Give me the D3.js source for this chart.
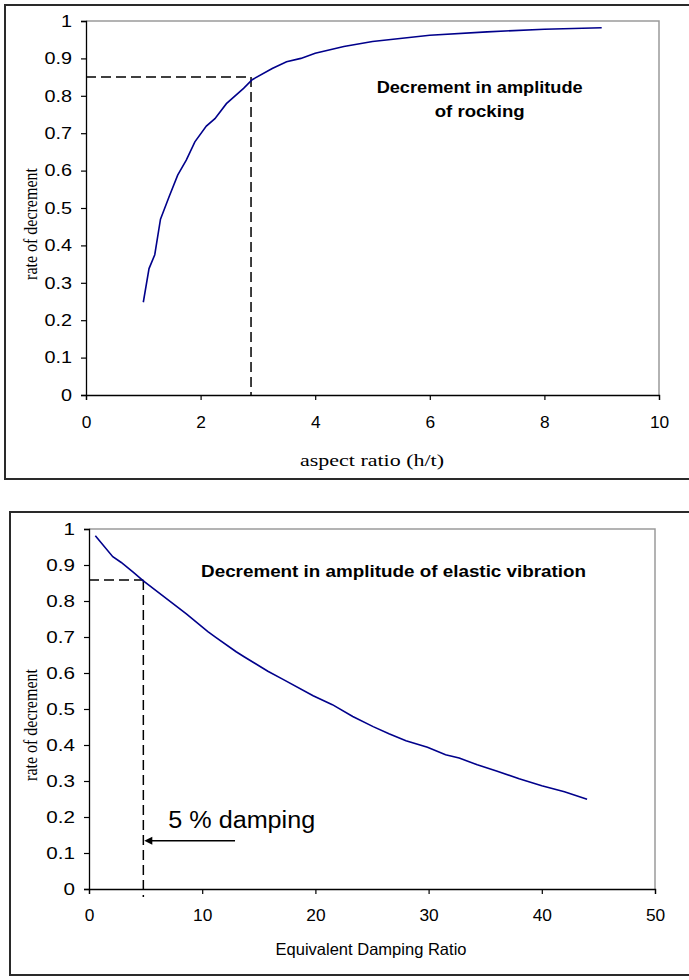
<!DOCTYPE html>
<html>
<head>
<meta charset="utf-8">
<script src="https://cdn.jsdelivr.net/npm/d3@7"></script>
<style>
  body { margin: 0; background: #fff; }
  svg { display: block; }
</style>
</head>
<body>
<svg id="chart" width="689" height="980"></svg>
<script>
// ---------- data ----------
const rockAspect = [1, 1.1, 1.2, 1.3, 1.45, 1.6, 1.75, 1.9, 2.1, 2.25, 2.45, 2.75, 2.9, 3.25, 3.5, 3.75, 4, 4.5, 5, 6, 7, 8, 9];
const rockRate   = [0.248, 0.338, 0.375, 0.47, 0.53, 0.588, 0.628, 0.677, 0.719, 0.739, 0.779, 0.82, 0.843, 0.873, 0.891, 0.9, 0.914, 0.932, 0.945, 0.962, 0.971, 0.978, 0.982];
const rockGuide  = { x: 2.88, y: 0.85 };

const dampRatio = [0.56, 2.1, 2.85, 3.9, 4.8, 6.7, 8.6, 10.5, 11.2, 13.0, 13.7, 15.8, 17.1, 19.8, 21.5, 23.3, 25.1, 26.5, 28.0, 29.9, 31.5, 32.7, 34.3, 36, 38, 40, 42, 44];
const dampRate  = [0.981, 0.923, 0.907, 0.88, 0.856, 0.81, 0.764, 0.715, 0.699, 0.659, 0.645, 0.605, 0.583, 0.537, 0.512, 0.479, 0.451, 0.431, 0.412, 0.394, 0.373, 0.364, 0.345, 0.328, 0.306, 0.287, 0.27, 0.249];
const dampGuide = { x: 4.8, y: 0.858 };

const yTicks = [0, 0.1, 0.2, 0.3, 0.4, 0.5, 0.6, 0.7, 0.8, 0.9, 1];
const xTicksTop = [0, 2, 4, 6, 8, 10];
const xTicksBottom = [0, 10, 20, 30, 40, 50];

const svg = d3.select("#chart");
const SANS = "'Liberation Sans', Arial, sans-serif";
const SERIF = "'Liberation Serif', 'Times New Roman', serif";

// widen text horizontally by factor k, or to an exact width w
function stretch(sel, k, w) {
  sel.each(function () {
    const len = this.getComputedTextLength();
    d3.select(this).attr("textLength", w ? w : len * k).attr("lengthAdjust", "spacingAndGlyphs");
  });
  return sel;
}

function drawPanel(cfg) {
  const g = svg.append("g");
  g.append("rect")
    .attr("x", cfg.box.x).attr("y", cfg.box.y)
    .attr("width", cfg.box.w).attr("height", cfg.box.h)
    .attr("fill", "none").attr("stroke", "#2a2a2a").attr("stroke-width", 2);

  const x = d3.scaleLinear().domain(cfg.xDomain).range(cfg.xRange);
  const y = d3.scaleLinear().domain([0, 1]).range(cfg.yRange);

  g.append("path")
    .attr("d", `M${x(cfg.xDomain[0])},${y(1)}H${x(cfg.xDomain[1])}V${y(0)}`)
    .attr("fill", "none").attr("stroke", "#9a9a9a").attr("stroke-width", 1.5);

  const yAxis = d3.axisLeft(y).tickValues(yTicks).tickFormat(d3.format("")).tickSize(5).tickPadding(9);
  const ya = g.append("g").attr("transform", `translate(${x(cfg.xDomain[0])},0)`).call(yAxis);
  const xAxis = d3.axisBottom(x).tickValues(cfg.xTicks).tickFormat(d3.format("")).tickSize(5).tickPadding(cfg.xPad);
  const xa = g.append("g").attr("transform", `translate(0,${y(0)})`).call(xAxis);
  [ya, xa].forEach(a => {
    a.selectAll("path.domain").attr("stroke", "#000").attr("stroke-width", 1.3);
    a.selectAll(".tick line").attr("stroke", "#000").attr("stroke-width", 1.2);
    a.selectAll("text").attr("font-family", SANS).attr("font-size", 16.5).attr("fill", "#000");
  });
  stretch(ya.selectAll("text"), cfg.yLabelK);
  stretch(xa.selectAll("text"), 1.05);

  g.append("path")
    .attr("d", `M${x(0)},${y(cfg.guide.y)}H${x(cfg.guide.x)}`)
    .attr("stroke", "#000").attr("stroke-width", 1.5).attr("stroke-dasharray", "10,5").attr("fill", "none");
  g.append("path")
    .attr("d", `M${x(cfg.guide.x)},${y(cfg.guide.y)}V${y(0) + cfg.guideExtra}`)
    .attr("stroke", "#000").attr("stroke-width", 1.5).attr("stroke-dasharray", "10,5").attr("fill", "none");

  const line = d3.line().x(d => x(d[0])).y(d => y(d[1]));
  g.append("path")
    .datum(cfg.xs.map((v, i) => [v, cfg.ys[i]]))
    .attr("d", line)
    .attr("fill", "none").attr("stroke", "#00008b").attr("stroke-width", 1.6);

  g.append("text")
    .attr("transform", `translate(${cfg.yTitleX},${(y(0) + y(1)) / 2 + 16}) scale(1.2,1) rotate(-90)`)
    .attr("text-anchor", "middle")
    .attr("font-family", SERIF).attr("font-size", 16)
    .text("rate of decrement");
  const xt = g.append("text")
    .attr("x", cfg.xTitle.x).attr("y", cfg.xTitle.y)
    .attr("text-anchor", "middle")
    .attr("font-family", cfg.xTitle.font).attr("font-size", cfg.xTitle.size)
    .text(cfg.xTitle.text);
  stretch(xt, 1, cfg.xTitle.width);

  return { g, x, y };
}

// ---------- top panel ----------
const topPanel = drawPanel({
  box: { x: 5, y: 5, w: 720, h: 474 },
  xDomain: [0, 10], xRange: [86, 659], yRange: [395, 21],
  xTicks: xTicksTop, xPad: 16, yLabelK: 1.2,
  guide: rockGuide, guideExtra: 0,
  xs: rockAspect, ys: rockRate,
  yTitleX: 37,
  xTitle: { x: 372, y: 466, text: "aspect ratio (h/t)", font: SERIF, size: 17.5, width: 144 }
});
stretch(topPanel.g.append("text")
  .attr("x", topPanel.x(6.87)).attr("y", topPanel.y(0.807))
  .attr("text-anchor", "middle").attr("font-family", SANS).attr("font-weight", "bold").attr("font-size", 17)
  .text("Decrement in amplitude"), 1, 206);
stretch(topPanel.g.append("text")
  .attr("x", topPanel.x(6.87)).attr("y", topPanel.y(0.743))
  .attr("text-anchor", "middle").attr("font-family", SANS).attr("font-weight", "bold").attr("font-size", 17)
  .text("of rocking"), 1, 90);

// ---------- bottom panel ----------
const botPanel = drawPanel({
  box: { x: 10, y: 512, w: 720, h: 463 },
  xDomain: [0, 50], xRange: [89, 655], yRange: [889, 529],
  xTicks: xTicksBottom, xPad: 15, yLabelK: 1.25,
  guide: dampGuide, guideExtra: 8,
  xs: dampRatio, ys: dampRate,
  yTitleX: 37,
  xTitle: { x: 371, y: 955, text: "Equivalent Damping Ratio", font: SANS, size: 16.5, width: 191 }
});
stretch(botPanel.g.append("text")
  .attr("x", botPanel.x(9.9)).attr("y", botPanel.y(0.867))
  .attr("font-family", SANS).attr("font-weight", "bold").attr("font-size", 17)
  .text("Decrement in amplitude of elastic vibration"), 1, 385);
stretch(botPanel.g.append("text")
  .attr("x", botPanel.x(7.0)).attr("y", botPanel.y(0.169))
  .attr("font-family", SANS).attr("font-size", 23)
  .text("5 % damping"), 1, 147);
const ay = botPanel.y(0.134);
const ax0 = botPanel.x(12.9), ax1 = botPanel.x(dampGuide.x) + 1;
botPanel.g.append("line")
  .attr("x1", ax0).attr("y1", ay).attr("x2", ax1 + 6).attr("y2", ay)
  .attr("stroke", "#000").attr("stroke-width", 1.6);
botPanel.g.append("path")
  .attr("d", `M${ax1},${ay}l8,-4v8z`)
  .attr("fill", "#000");
</script>
</body>
</html>
